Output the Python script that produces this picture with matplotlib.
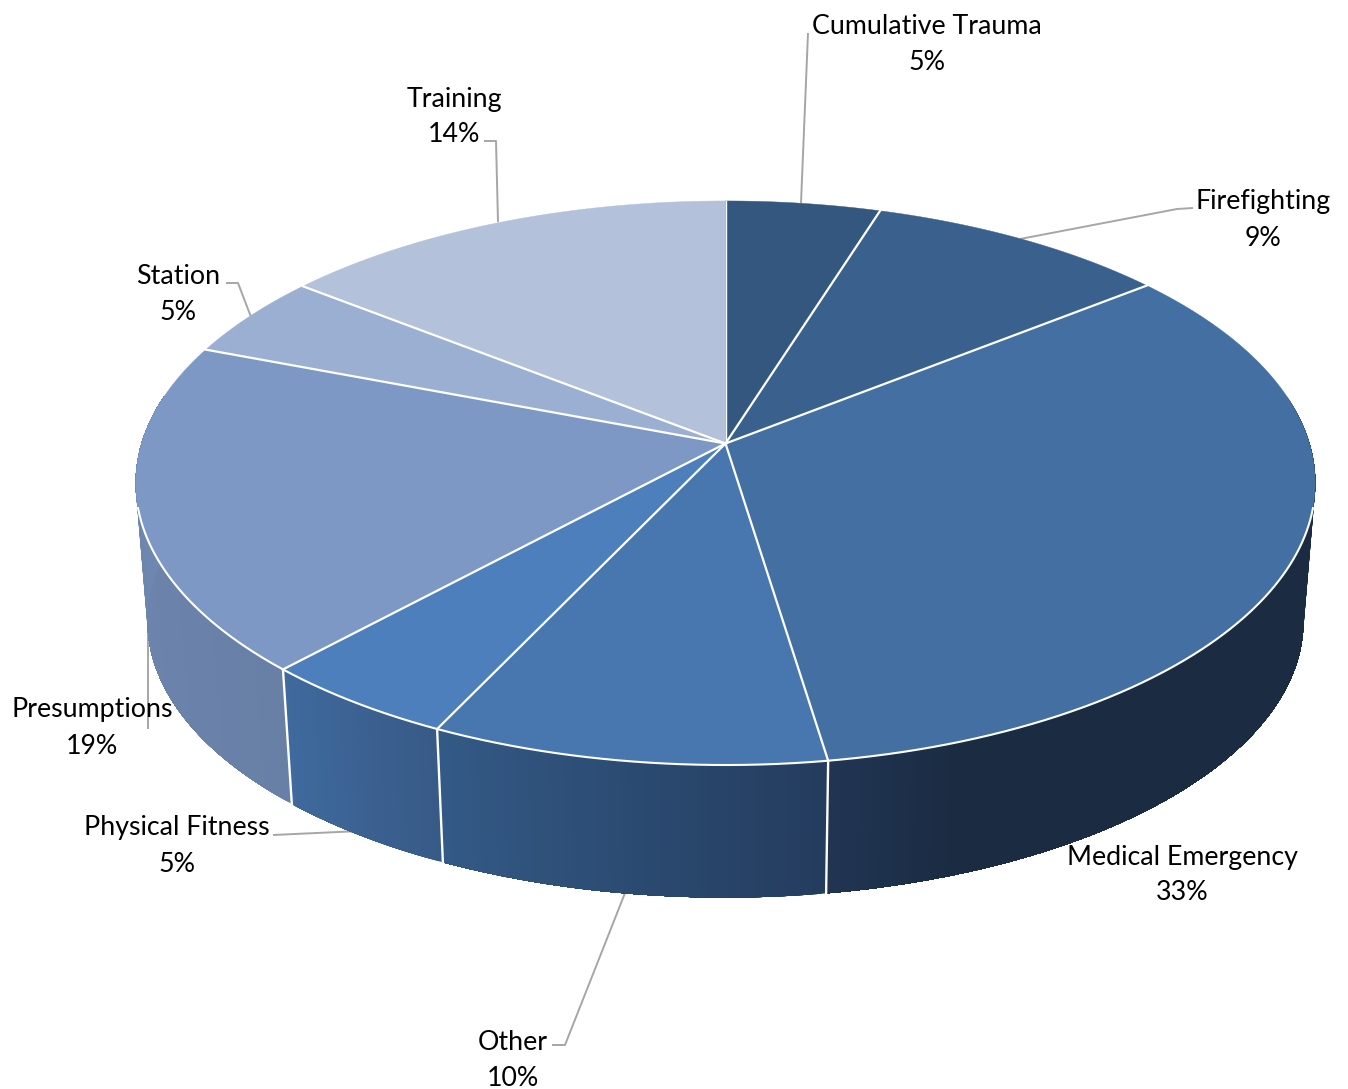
import numpy as np
import matplotlib
matplotlib.use("Agg")
import matplotlib.pyplot as plt
from matplotlib.collections import PolyCollection

categories = ["Cumulative Trauma", "Firefighting", "Medical Emergency", "Other",
              "Physical Fitness", "Presumptions", "Station", "Training"]
values = [4.85, 9.49, 33.24, 9.52, 4.8, 18.9, 4.8, 14.4]
top_colors = ["#34577F", "#3A618E", "#446FA2", "#4876AF", "#4C7FBB", "#7D98C5", "#9BAFD2", "#B3C1DA"]
side_start = ["#34577F", "#3A618E", "#213553", "#335A86", "#3F6A9E", "#7089B2", "#9BAFD2", "#B3C1DA"]
side_end = ["#34577F", "#3A618E", "#1A2B42", "#243C5E", "#385A87", "#687FA6", "#9BAFD2", "#B3C1DA"]

label_xy = [(927, 44), (1263, 220), (1182, 875), (513, 1060), (177, 846), (92, 728), (178, 295), (454, 117)]
leaders = [[(808, 33), (801, 203)],
           [(1193, 208), (1177, 209), (1020, 239)],
           None,
           [(552, 1045), (565, 1045), (625, 893)],
           [(273, 835), (360, 831)],
           [(148, 630), (148, 729)],
           [(226, 283), (238, 283), (251, 317)],
           [(484, 141), (496, 141), (498, 222)]]

CX, CY, A, B, K = 725.5, 443.5, 584.0, 276.5, 0.14
SCALE, DROP = 0.98, 139.0


def top_point(theta):
    u, v = np.sin(theta), np.cos(theta)
    w = 1 + K * v
    return CX + A * u / w, CY - B * v / w


def bottom_point(theta):
    x, y = top_point(theta)
    return CX + SCALE * (x - CX), CY + SCALE * (y - CY) + DROP


def rgb(c):
    return np.array(matplotlib.colors.to_rgb(c))


fig = plt.figure(figsize=(13.48, 10.89), dpi=100)
ax = fig.add_axes([0, 0, 1, 1])
ax.set_xlim(0, 1348)
ax.set_ylim(1089, 0)
ax.axis("off")

edges = np.cumsum([0] + values) / sum(values) * 2 * np.pi

# leaders lie behind the pie
for pts in leaders:
    if pts:
        xs, ys = zip(*pts)
        ax.plot(xs, ys, color="#A6A6A6", lw=1.4, zorder=1, solid_capstyle="butt")

# side wall: overlapping strips painted in order, so no seams show
S0, S1 = np.radians(80), np.radians(280)
for i in range(len(values)):
    a0, a1 = max(edges[i], S0), min(edges[i + 1], S1)
    if a1 <= a0:
        continue
    ts = np.linspace(a0, a1, max(int((a1 - a0) * 150), 3))
    quads, cols = [], []
    for j in range(len(ts) - 1):
        t0 = ts[j]
        arc = np.linspace(t0, a1, 120)
        tx, ty = top_point(arc)
        bx, by = bottom_point(arc[::-1])
        quads.append(np.c_[np.r_[tx, bx], np.r_[ty, by]])
        f = j / (len(ts) - 2)
        # gradient runs left to right on screen, i.e. against increasing angle
        c = rgb(side_end[i]) * (1 - f) + rgb(side_start[i]) * f
        if i == 2:
            f2 = min(1.0, (1 - f) * 8)
            c = rgb(side_end[i]) * f2 + rgb(side_start[i]) * (1 - f2)
        cols.append(c)
    ax.add_collection(PolyCollection(quads, facecolors=cols, edgecolors="none", linewidths=0, zorder=2))

# dividers on the wall
for e in edges[1:-1]:
    if S0 < e < S1:
        p, q = top_point(e), bottom_point(e)
        ax.plot([p[0], q[0]], [p[1], q[1]], color="white", lw=1.7, zorder=3)

# top face
for i in range(len(values)):
    ts = np.linspace(edges[i], edges[i + 1], 200)
    x, y = top_point(ts)
    ax.fill(np.r_[CX, x], np.r_[CY, y], facecolor=top_colors[i], edgecolor=top_colors[i], lw=0.3, zorder=4)

# white rim on the front part
ts = np.linspace(np.radians(90), np.radians(270), 800)
x, y = top_point(ts)
mask = y > 508
ax.plot(x[mask], y[mask], color="white", lw=1.5, zorder=5)

# radial separators
for e in edges[:-1]:
    p = top_point(e)
    ax.plot([CX, p[0]], [CY, p[1]], color="white", lw=1.6 if e > 0 else 1.0, zorder=6)

# labels
for name, val, (lx, ly) in zip(categories, values, label_xy):
    ax.text(lx, ly, f"{name}\n{round(val / sum(values) * 100):d}%", ha="center", va="center",
            family=["Lato", "DejaVu Sans"], fontsize=19.3, color="black", linespacing=1.55, zorder=7)

fig.savefig("out.png", dpi=100, facecolor="white")
